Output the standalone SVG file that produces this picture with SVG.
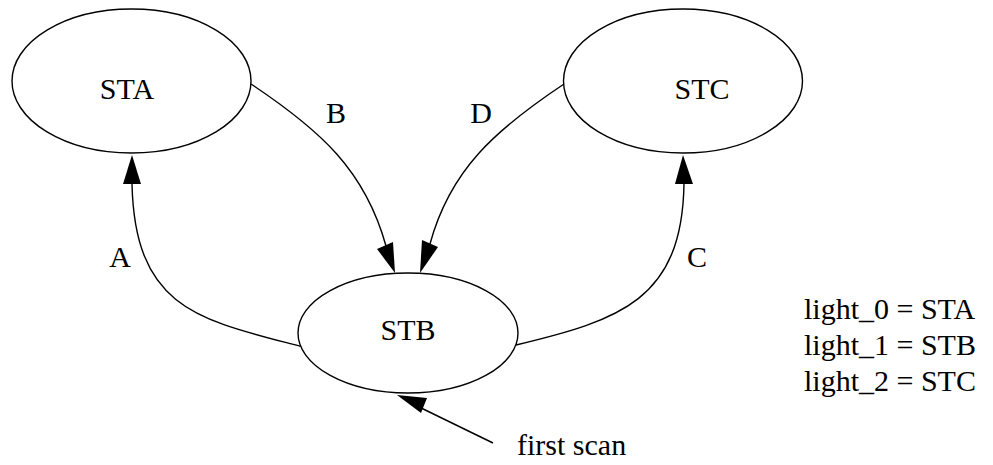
<svg xmlns="http://www.w3.org/2000/svg" width="993" height="465" viewBox="0 0 993 465">
<style>
.node ellipse{fill:#fff;stroke:#000;stroke-width:1.4}
text{font-family:"Liberation Serif","Times New Roman",serif;font-size:30px;fill:#000}
.edge{fill:none;stroke:#000;stroke-width:1.4}
.head{fill:#000;stroke:none}
</style>
<rect width="993" height="465" fill="#fff"/>
<g id="connectors">
<path class="edge" d="M251,84 C320,130 365,170 386,246"/>
<polygon class="head" points="395,273 377,249 393,242"/>
<path class="edge" d="M564,84 C495,130 450,170 430,244"/>
<polygon class="head" points="420,273 422,240 438,247"/>
<path class="edge" d="M303,347 C200,320 135,310 132,184"/>
<polygon class="head" points="132,155 123,184 141,184"/>
<path class="edge" d="M516,345 C620,320 682,300 684,184"/>
<polygon class="head" points="683,155 675,184 693,184"/>
<path class="edge" d="M493,443 L415,405"/>
<polygon class="head" points="397,395 421,413 427,398"/>
</g>
<g id="STA" class="node"><ellipse cx="131.5" cy="81" rx="119.5" ry="72"/><text x="127" y="99" text-anchor="middle">STA</text></g>
<g id="STC" class="node"><ellipse cx="683" cy="81" rx="119.5" ry="72"/><text x="702" y="99" text-anchor="middle">STC</text></g>
<g id="STB" class="node"><ellipse cx="408" cy="333" rx="110" ry="60"/><text x="408" y="340" text-anchor="middle">STB</text></g>
<g id="labels">
<text x="336" y="123" text-anchor="middle">B</text>
<text x="481" y="123" text-anchor="middle">D</text>
<text x="120" y="267" text-anchor="middle">A</text>
<text x="697" y="267" text-anchor="middle">C</text>
<text x="517" y="455">first scan</text>
</g>
<g id="legend">
<text x="804" y="319">light_0 = STA</text>
<text x="804" y="355">light_1 = STB</text>
<text x="804" y="391">light_2 = STC</text>
</g>
</svg>
